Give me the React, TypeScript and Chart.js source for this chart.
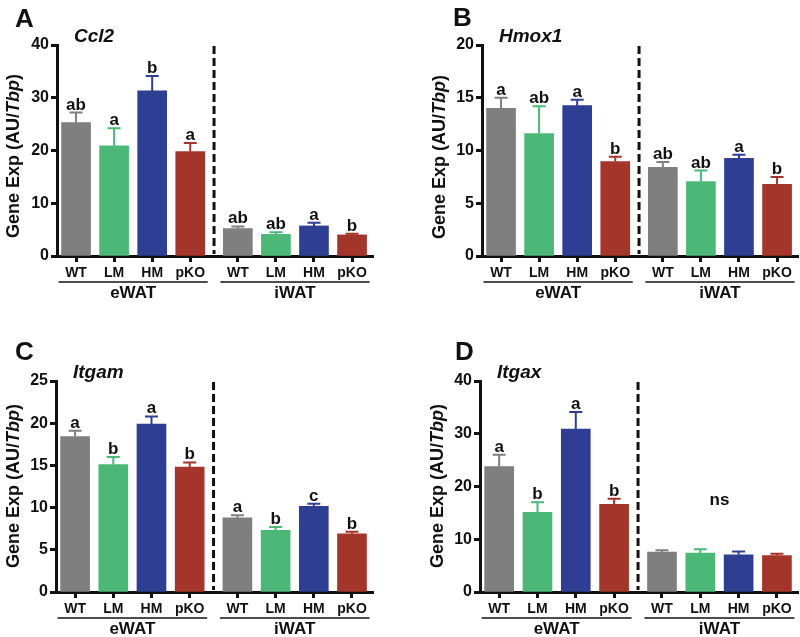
import React, { useEffect, useRef } from 'react';
import { Chart, registerables } from 'chart.js';

Chart.register(...registerables);

const FONT = '"Liberation Sans", Arial, Helvetica, sans-serif';

// ---------- data ----------
const categories = ['WT', 'LM', 'HM', 'pKO', 'WT', 'LM', 'HM', 'pKO'];
const groupNames = ['eWAT', 'iWAT'];
const positions = [0, 1, 2, 3, 4.25, 5.25, 6.25, 7.25];
const barColors = ['#7f7f7f', '#4cb878', '#2e3f93', '#a3352b', '#7f7f7f', '#4cb878', '#2e3f93', '#a3352b'];

const ccl2Mean = [25.3, 20.9, 31.3, 19.8, 5.2, 4.1, 5.7, 4.0];
const ccl2Sem = [1.9, 3.3, 2.8, 1.6, 0.4, 0.4, 0.6, 0.2];
const ccl2Letters = ['ab', 'a', 'b', 'a', 'ab', 'ab', 'a', 'b'];

const hmox1Mean = [14.0, 11.6, 14.25, 8.95, 8.4, 7.05, 9.25, 6.8];
const hmox1Sem = [1.0, 2.6, 0.55, 0.45, 0.5, 1.05, 0.35, 0.7];
const hmox1Letters = ['a', 'ab', 'a', 'b', 'ab', 'ab', 'a', 'b'];

const itgamMean = [18.4, 15.1, 19.9, 14.8, 8.8, 7.3, 10.15, 6.9];
const itgamSem = [0.7, 0.9, 0.9, 0.55, 0.3, 0.4, 0.3, 0.25];
const itgamLetters = ['a', 'b', 'a', 'b', 'a', 'b', 'c', 'b'];

const itgaxMean = [23.8, 15.1, 30.9, 16.6, 7.55, 7.4, 7.05, 6.9];
const itgaxSem = [2.2, 1.9, 3.2, 1.1, 0.35, 0.7, 0.65, 0.35];
const itgaxLetters = ['a', 'b', 'a', 'b', '', '', '', ''];
const itgaxGroupNote = ['', 'ns'];
const itgaxNoteValue = 16.5;

// ---------- layout ----------
type PanelCfg = {
  letter: string;
  gene: string;
  mean: number[];
  sem: number[];
  letters: string[];
  yMax: number;
  yStep: number;
  left: number;
  top: number;
  w: number;
  h: number;
  area: { left: number; top: number; right: number; bottom: number };
  letterPos: [number, number];
  titlePos: [number, number];
  note?: string[];
  noteValue?: number;
};

const panels: PanelCfg[] = [
  {
    letter: 'A', gene: 'Ccl2', mean: ccl2Mean, sem: ccl2Sem, letters: ccl2Letters, yMax: 40, yStep: 10,
    left: 0, top: 0, w: 400, h: 318,
    area: { left: 57, top: 45, right: 373, bottom: 256 },
    letterPos: [15, 27], titlePos: [14, 156],
  },
  {
    letter: 'B', gene: 'Hmox1', mean: hmox1Mean, sem: hmox1Sem, letters: hmox1Letters, yMax: 20, yStep: 5,
    left: 400, top: 0, w: 400, h: 318,
    area: { left: 82, top: 45, right: 398, bottom: 256 },
    letterPos: [53, 26], titlePos: [40, 157],
  },
  {
    letter: 'C', gene: 'Itgam', mean: itgamMean, sem: itgamSem, letters: itgamLetters, yMax: 25, yStep: 5,
    left: 0, top: 318, w: 400, h: 319,
    area: { left: 56, top: 63, right: 373, bottom: 274 },
    letterPos: [15, 42], titlePos: [14, 168],
  },
  {
    letter: 'D', gene: 'Itgax', mean: itgaxMean, sem: itgaxSem, letters: itgaxLetters, yMax: 40, yStep: 10,
    left: 400, top: 318, w: 400, h: 319,
    area: { left: 80, top: 63, right: 398, bottom: 274 },
    letterPos: [55, 42], titlePos: [38, 168],
    note: itgaxGroupNote, noteValue: itgaxNoteValue,
  },
];

const BAR_W = 29;

function drawYTitle(ctx: CanvasRenderingContext2D, cx: number, cy: number) {
  const parts: [string, string][] = [
    ['Gene Exp (AU/', 'bold'],
    ['Tbp', 'italic bold'],
    [')', 'bold'],
  ];
  ctx.save();
  ctx.translate(cx, cy);
  ctx.rotate(-Math.PI / 2);
  ctx.fillStyle = '#111';
  ctx.textBaseline = 'middle';
  ctx.textAlign = 'left';
  const widths = parts.map(([t, s]) => {
    ctx.font = `${s} 18px ${FONT}`;
    return ctx.measureText(t).width;
  });
  const total = widths.reduce((a, b) => a + b, 0);
  let x = -total / 2;
  parts.forEach(([t, s], i) => {
    ctx.font = `${s} 18px ${FONT}`;
    ctx.fillText(t, x, 0);
    x += widths[i];
  });
  ctx.restore();
}

function Panel({ cfg }: { cfg: PanelCfg }) {
  const ref = useRef<HTMLCanvasElement | null>(null);

  useEffect(() => {
    if (!ref.current) return;
    const { area, w, h } = cfg;

    const overlay = {
      id: 'overlay' + cfg.letter,
      afterDatasetsDraw(chart: any) {
        const ctx: CanvasRenderingContext2D = chart.ctx;
        const xs = chart.scales.x;
        const ys = chart.scales.y;
        const ca = chart.chartArea;
        const meta = chart.getDatasetMeta(0);

        // error bars + letters
        cfg.mean.forEach((m, i) => {
          const bar = meta.data[i];
          const px = bar.x;
          const yTop = ys.getPixelForValue(m + cfg.sem[i]);
          const yBar = ys.getPixelForValue(m);
          ctx.save();
          ctx.strokeStyle = barColors[i];
          ctx.lineWidth = 2;
          ctx.beginPath();
          ctx.moveTo(px, yBar);
          ctx.lineTo(px, yTop);
          ctx.moveTo(px - 6.5, yTop);
          ctx.lineTo(px + 6.5, yTop);
          ctx.stroke();
          if (cfg.letters[i]) {
            ctx.fillStyle = '#111';
            ctx.font = `bold 17px ${FONT}`;
            ctx.textAlign = 'center';
            ctx.textBaseline = 'alphabetic';
            ctx.fillText(cfg.letters[i], px, yTop - 3);
          }
          ctx.restore();
        });

        // dashed divider
        const divX = xs.getPixelForValue((positions[3] + positions[4]) / 2);
        ctx.save();
        ctx.strokeStyle = '#111';
        ctx.lineWidth = 3;
        ctx.setLineDash([8, 4]);
        ctx.beginPath();
        ctx.moveTo(divX, ca.top + 1);
        ctx.lineTo(divX, ca.bottom - 2);
        ctx.stroke();
        ctx.restore();

        // group note (ns)
        if (cfg.note) {
          cfg.note.forEach((n, g) => {
            if (!n) return;
            const x0 = xs.getPixelForValue(positions[g * 4]);
            const x1 = xs.getPixelForValue(positions[g * 4 + 3]);
            ctx.save();
            ctx.fillStyle = '#111';
            ctx.font = `bold 17px ${FONT}`;
            ctx.textAlign = 'center';
            ctx.textBaseline = 'alphabetic';
            ctx.fillText(n, (x0 + x1) / 2, ys.getPixelForValue(cfg.noteValue || 0));
            ctx.restore();
          });
        }
      },
      afterDraw(chart: any) {
        const ctx: CanvasRenderingContext2D = chart.ctx;
        const xs = chart.scales.x;
        const ca = chart.chartArea;

        // group underlines & labels
        groupNames.forEach((gName, g) => {
          const x0 = xs.getPixelForValue(positions[g * 4]) - BAR_W / 2 - 3;
          const x1 = xs.getPixelForValue(positions[g * 4 + 3]) + BAR_W / 2 + 3;
          ctx.save();
          ctx.strokeStyle = '#111';
          ctx.lineWidth = 1.5;
          ctx.beginPath();
          ctx.moveTo(x0, ca.bottom + 26);
          ctx.lineTo(x1, ca.bottom + 26);
          ctx.stroke();
          ctx.fillStyle = '#111';
          ctx.font = `bold 17px ${FONT}`;
          ctx.textAlign = 'center';
          ctx.textBaseline = 'middle';
          ctx.fillText(gName, (x0 + x1) / 2, ca.bottom + 37);
          ctx.restore();
        });

        // y title
        drawYTitle(ctx, cfg.titlePos[0], cfg.titlePos[1]);

        // panel letter
        ctx.save();
        ctx.fillStyle = '#111';
        ctx.textAlign = 'left';
        ctx.textBaseline = 'alphabetic';
        ctx.font = `bold 26px ${FONT}`;
        ctx.fillText(cfg.letter, cfg.letterPos[0], cfg.letterPos[1]);
        // gene name
        ctx.font = `italic bold 19px ${FONT}`;
        ctx.fillText(cfg.gene, ca.left + 17, ca.top - 3);
        ctx.restore();
      },
    };

    const chart = new Chart(ref.current, {
      type: 'bar',
      data: {
        datasets: [
          {
            data: cfg.mean.map((v, i) => ({ x: positions[i], y: v })) as any,
            backgroundColor: barColors,
            borderWidth: 0,
            barThickness: BAR_W,
          },
        ],
      },
      options: {
        responsive: false,
        animation: false,
        devicePixelRatio: 1,
        layout: { padding: { top: area.top, right: w - area.right, left: 0, bottom: 0 } },
        plugins: { legend: { display: false }, tooltip: { enabled: false } },
        scales: {
          x: {
            type: 'linear',
            min: -0.5,
            max: 7.8,
            offset: false,
            bounds: 'data',
            afterBuildTicks: (s: any) => {
              s.ticks = positions.map((v) => ({ value: v }));
            },
            afterFit: (s: any) => {
              s.height = h - area.bottom;
            },
            grid: {
              offset: false,
              drawOnChartArea: false,
              drawTicks: true,
              tickLength: 6,
              tickWidth: 3,
              tickColor: '#111',
            },
            border: { display: true, width: 3, color: '#111' },
            ticks: {
              autoSkip: false,
              maxRotation: 0,
              padding: 3,
              color: '#111',
              font: { family: FONT, size: 14, weight: 'bold' },
              callback: (_v: any, i: number) => categories[i],
            },
          } as any,
          y: {
            min: 0,
            max: cfg.yMax,
            afterFit: (s: any) => {
              s.width = area.left;
            },
            grid: {
              drawOnChartArea: false,
              drawTicks: true,
              tickLength: 6,
              tickWidth: 3,
              tickColor: '#111',
            },
            border: { display: true, width: 3, color: '#111' },
            ticks: {
              stepSize: cfg.yStep,
              padding: 2,
              color: '#111',
              font: { family: FONT, size: 16, weight: 'bold' },
            },
          } as any,
        },
      },
      plugins: [overlay],
    });
    return () => chart.destroy();
  }, [cfg]);

  return (
    <div style={{ position: 'absolute', left: cfg.left, top: cfg.top, width: cfg.w, height: cfg.h }}>
      <canvas ref={ref} width={cfg.w} height={cfg.h} style={{ display: 'block' }} />
    </div>
  );
}

export default function App() {
  return (
    <div style={{ position: 'absolute', left: 0, top: 0, width: 800, height: 637, background: '#fff', overflow: 'hidden' }}>
      {panels.map((p) => (
        <Panel key={p.letter} cfg={p} />
      ))}
    </div>
  );
}
